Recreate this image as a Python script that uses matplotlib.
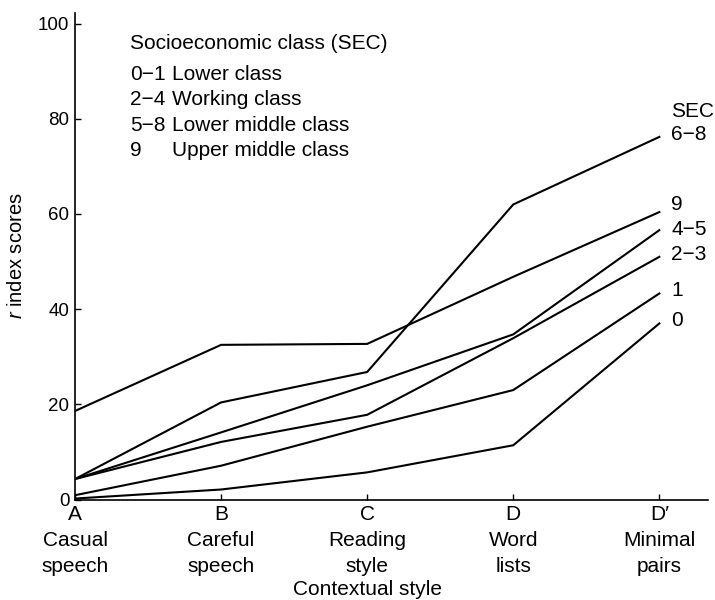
import matplotlib
matplotlib.use("Agg")
import matplotlib.pyplot as plt

plt.rcParams['font.family'] = ['Liberation Sans', 'DejaVu Sans']
plt.rcParams['mathtext.fontset'] = 'custom'
plt.rcParams['mathtext.it'] = 'Liberation Sans:italic'

# contextual styles on the x axis
styles = ['A', 'B', 'C', 'D', 'D\u2032']
style_names = ['Casual\nspeech', 'Careful\nspeech', 'Reading\nstyle', 'Word\nlists', 'Minimal\npairs']

# r index scores per socioeconomic class group
sec_labels = ['0', '1', '2\u22123', '4\u22125', '6\u22128', '9']
sec_0 = [0.2, 2.1, 5.7, 11.4, 37.0]
sec_1 = [0.9, 7.1, 15.3, 23.0, 43.3]
sec_2_3 = [4.3, 12.1, 17.8, 33.9, 51.0]
sec_4_5 = [4.3, 14.1, 24.0, 34.7, 56.6]
sec_6_8 = [4.3, 20.4, 26.8, 62.0, 76.2]
sec_9 = [18.6, 32.5, 32.7, 46.8, 60.4]
series = [sec_0, sec_1, sec_2_3, sec_4_5, sec_6_8, sec_9]

legend_codes = ['0\u22121', '2\u22124', '5\u22128', '9']
legend_names = ['Lower class', 'Working class', 'Lower middle class', 'Upper middle class']

# small vertical nudges so end labels don't collide
label_nudge = {'0': 0.7, '1': 0.7, '2\u22123': 0.5, '4\u22125': 0.2, '6\u22128': 0.4, '9': 1.6}

FS = 15

fig = plt.figure(figsize=(7.15, 6.0), dpi=100)
ax = fig.add_axes([75 / 715, 1 - 499.5 / 600, (708 - 75) / 715, (499.5 - 12.7) / 600])

x = list(range(len(styles)))
for lab, vals in zip(sec_labels, series):
    ax.plot(x, vals, color='black', lw=1.5, solid_joinstyle='miter')
    ax.text(x[-1] + 0.08, vals[-1] + label_nudge[lab], lab, fontsize=FS, va='center', ha='left')

ax.text(x[-1] + 0.08, 81.6, 'SEC', fontsize=FS, va='center', ha='left')

ax.set_xlim(0, 4.333)
ax.set_ylim(0, 102.3)
ax.set_yticks([0, 20, 40, 60, 80, 100])
ax.set_xticks(x)
ax.set_xticklabels([s + '\n' + n for s, n in zip(styles, style_names)], linespacing=1.45)
ax.tick_params(direction='in', length=4, width=1, color='black')
ax.tick_params(axis='x', labelsize=FS, pad=4)
ax.tick_params(axis='y', labelsize=13.5, pad=4)
ax.spines['top'].set_visible(False)
ax.spines['right'].set_visible(False)
for sp in ['left', 'bottom']:
    ax.spines[sp].set_linewidth(1.2)

ax.set_ylabel('$r$ index scores', fontsize=14.5)
ax.yaxis.set_label_coords(-0.077, 0.5)
ax.text(2.0, -19.0, 'Contextual style', fontsize=FS, ha='center', va='center')

# class key in the upper left
ax.text(0.376, 95.8, 'Socioeconomic class (SEC)', fontsize=FS, va='center')
row_y = [89.4, 84.1, 78.5, 73.4]
for code, name, yy in zip(legend_codes, legend_names, row_y):
    ax.text(0.376, yy, code, fontsize=FS, va='center')
    ax.text(0.662, yy, name, fontsize=FS, va='center')

fig.savefig('out.png', dpi=100)
